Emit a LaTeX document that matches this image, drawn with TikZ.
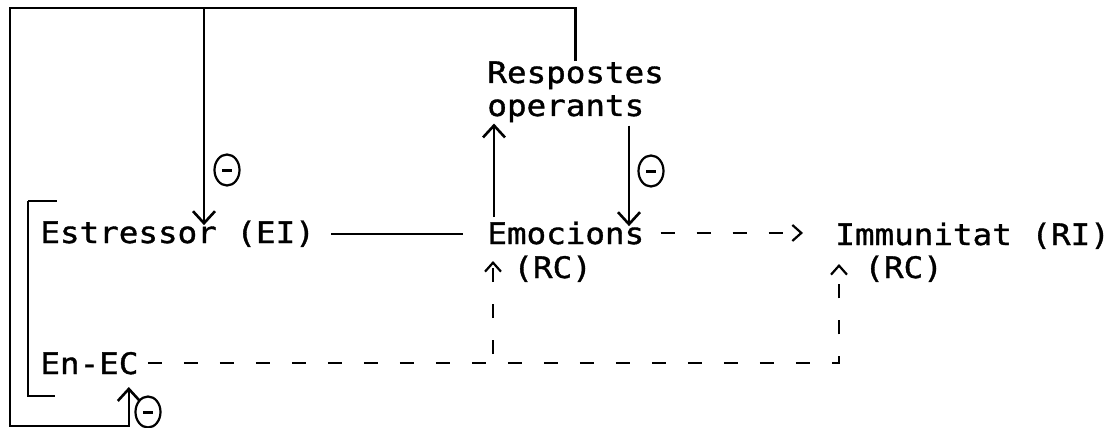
\documentclass[tikz,border=0pt]{standalone}
\usepackage{fontspec}
\usetikzlibrary{shapes.geometric, arrows.meta}
\newfontfamily\plotfont[FakeStretch=1.1, FakeBold=1.2]{DejaVu Sans Mono}

\begin{document}
\begin{tikzpicture}[x=0.5pt, y=-0.5pt,
    lbl/.style={inner sep=0pt, anchor=base west, font=\plotfont\fontsize{14.8pt}{16.5pt}\selectfont},
    link/.style={line width=1.2pt, -{Straight Barb[length=6pt, width=11pt, line width=1.3pt]}},
    cond/.style={line width=1.2pt, dash pattern=on 7pt off 11pt, -{Straight Barb[length=4.5pt, width=8pt, line width=1.1pt]}},
    inhib/.style={draw, ellipse, line width=1.1pt, inner sep=0pt, minimum width=12.5pt, minimum height=15.5pt}]

    \useasboundingbox (0,0) rectangle (1110,428);

    % Stimuli
    \node[lbl] (estr) at (40,243) {Estressor (EI)};
    \node[lbl] (enec) at (40,374) {En-EC};
    \draw[line width=1.1pt] ([shift={(-12,-42)}]estr.base west) -- ++(29,0);
    \draw[line width=1.1pt] ([shift={(-12,-42)}]estr.base west) -- ++(0,195) -- ++(27,0);

    % Responses
    \node[lbl] (emoc) at (487,244) {Emocions};
    \node[lbl] (rc1) at (513,278) {(RC)};
    \node[lbl] (immu) at (835,245) {Immunitat (RI)};
    \node[lbl] (rc2) at (864,278) {(RC)};
    \node[lbl, align=left, anchor=north west] (resp) at (487,61) {Respostes\\operants};

    % Inhibition marks
    \node[inhib] (m1) at (227,170) {\rule{5pt}{1.5pt}};
    \node[inhib] (m2) at (651,171) {\rule{5pt}{1.5pt}};
    \node[inhib] (m3) at (148,412) {\rule{5pt}{1.5pt}};

    % Feedback loop
    \coordinate (tl) at (10,8);
    \coordinate (bl) at (10,426);
    \coordinate (jt) at (204,8);
    \draw[link] (resp.north) |- (tl) -- (bl) -| ([shift={(-10,13)}]enec.base east);
    \draw[link] (jt) -- ([shift={(0,5)}]jt |- estr.north);

    % Emotional path
    \draw[line width=1.2pt, shorten <=8pt, shorten >=12pt] (estr.east) -- (estr.east -| emoc.west);
    \draw[link] ([shift={(7,-4)}]emoc.north west) -- ([shift={(7,1)}]emoc.north west |- resp.south);
    \draw[link] ([shift={(142,3)}]resp.south west) -- ([shift={(142,5)}]resp.south west |- emoc.north);
    \draw[cond, shorten <=8pt, shorten >=16pt] (emoc.east) -- (emoc.east -| immu.west);

    % Conditioned path
    \draw[cond] ([shift={(9,0)}]enec.east) -| ([shift={(4,19)}]immu.base west);
    \draw[cond] ([shift={(6,-9)}]enec.east -| emoc.west) -- ([shift={(6,17)}]emoc.base west);

\end{tikzpicture}
\end{document}
